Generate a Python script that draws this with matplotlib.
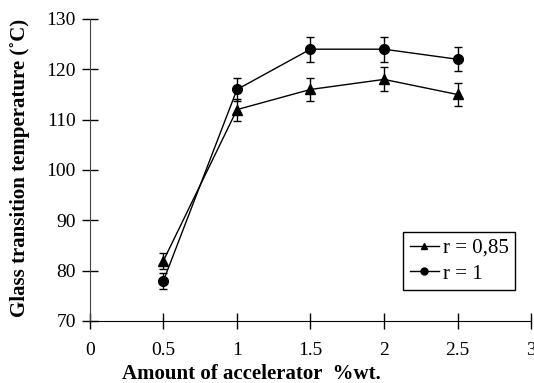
import matplotlib
matplotlib.use('Agg')
import matplotlib.pyplot as plt
from matplotlib.lines import Line2D

# Accelerator content (% wt.) and glass transition temperature (deg C)
accelerator = [0.5, 1, 1.5, 2, 2.5]
tg_r085 = [82, 112, 116, 118, 115]
tg_r1 = [78, 116, 124, 124, 122]
err_r085 = [1.6, 2.2, 2.3, 2.4, 2.3]
err_r1 = [1.6, 2.3, 2.5, 2.5, 2.4]

xticks = [0, 0.5, 1, 1.5, 2, 2.5, 3]
xticklabels = ['0', '0.5', '1', '1.5', '2', '2.5', '3']
yticks = [70, 80, 90, 100, 110, 120, 130]

plt.rcParams['font.family'] = 'Liberation Serif'

fig = plt.figure(figsize=(5.34, 3.83), dpi=100)
axes = fig.add_axes([0.1685, 0.1619, 0.8259, 0.7885])

axes.errorbar(accelerator, tg_r085, yerr=err_r085, color='black', marker='^',
              markersize=7, linewidth=1, elinewidth=1, capsize=3)
axes.errorbar(accelerator, tg_r1, yerr=err_r1, color='black', marker='o',
              markersize=7, linewidth=1, elinewidth=1, capsize=3)

axes.set_xlim(0, 3)
axes.set_ylim(70, 130)
axes.set_xticks(xticks)
axes.set_xticklabels(xticklabels)
axes.set_yticks(yticks)
axes.tick_params(direction='inout', length=12, width=1, labelsize=14,
                 colors='black')
axes.tick_params(axis='y', pad=4)
axes.tick_params(axis='x', pad=9)
axes.spines['top'].set_visible(False)
axes.spines['right'].set_visible(False)
axes.spines['left'].set_color('#444444')
axes.spines['bottom'].set_color('black')

axes.set_xlabel('Amount of accelerator  %wt.', fontsize=15, fontweight='bold',
                va='center')
axes.xaxis.set_label_coords((251 - 90) / 441, -(374 - 321) / 302)
axes.set_ylabel('Glass transition temperature (\u02daC)', fontsize=15,
                fontweight='bold', va='center')
axes.yaxis.set_label_coords(-(90 - 20) / 441, (321 - 168) / 302)

# legend shows plain line+marker samples, without the error bars
handles = [Line2D([], [], color='black', marker='^', markersize=5, linewidth=1),
           Line2D([], [], color='black', marker='o', markersize=5, linewidth=1)]
leg = axes.legend(handles, ['r = 0,85', 'r = 1'], loc='lower right',
                  bbox_to_anchor=(0.964, 0.103), fontsize=15,
                  handlelength=1.4, handletextpad=0.2, fancybox=False,
                  framealpha=1, edgecolor='black', borderpad=0.3,
                  labelspacing=0.3, borderaxespad=0)
leg.get_frame().set_linewidth(1)

fig.savefig('out.png', dpi=100)
